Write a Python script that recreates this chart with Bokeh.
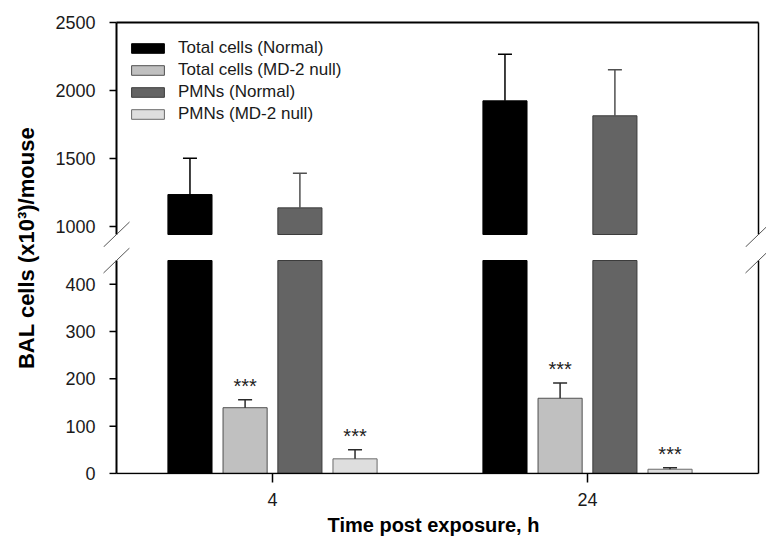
import numpy as np
from bokeh.plotting import figure
from bokeh.models import (ColumnDataSource, Range1d, FixedTicker, LinearAxis,
                          Label, Legend, LegendItem, CDSView, BooleanFilter)
from bokeh.layouts import row, column
from bokeh.transform import dodge
from bokeh.core.properties import value
from bokeh.embed import file_html
from bokeh.resources import INLINE

# ---------------- data ----------------
times = ["4", "24"]
series_names = ["Total cells (Normal)", "Total cells (MD-2 null)",
                "PMNs (Normal)", "PMNs (MD-2 null)"]
total_normal = [1235, 1924]
total_normal_err = [267, 343]
total_md2 = [139, 159]
total_md2_err = [17, 32]
pmn_normal = [1137, 1814]
pmn_normal_err = [255, 338]
pmn_md2 = [31, 9]
pmn_md2_err = [19, 3]
total_md2_sig = ["***", "***"]
pmn_md2_sig = ["***", "***"]

upper_ticks = [1000, 1500, 2000, 2500]
lower_ticks = [0, 100, 200, 300, 400]

# ---------------- styling ----------------
FONT = "Liberation Sans"
fills = ["#000000", "#c0c0c0", "#646464", "#dedede"]
edges = ["#000000", "#505050", "#3c3c3c", "#6a6a6a"]
err_colors = ["#000000", "#2a2a2a", "#505050", "#2a2a2a"]
offsets = [-0.262, -0.087, 0.087, 0.262]
bar_w = 0.14

# ---------------- layout (page pixels) ----------------
TITLE_W = 40
MAIN_W = 726
FRAME_LEFT = 100
BORDER_L = FRAME_LEFT - TITLE_W
FRAME_W = MAIN_W - BORDER_L
AX_L, AX_R = 116, 758          # left / right axis lines
G0, GSTEP = 272, 315           # first group centre, group spacing
TICK_LEN = 7

x_start = (FRAME_LEFT - G0) / GSTEP
x_range = Range1d(x_start, x_start + FRAME_W / GSTEP)
X0 = (AX_L - G0) / GSTEP
X1 = (AX_R - G0) / GSTEP

# upper panel: 2500 at y=22, 1000 at y=226, segment ends at 234, canvas 0..247
UP_H, UP_BT = 247, 18
sy_u = (226 - 22) / (2500 - 1000)
up_range = Range1d(2500 - (UP_H - 22) / sy_u, 2500 + (22 - UP_BT) / sy_u)
up_gap = 2500 - (234 - 22) / sy_u
# lower panel: 0 at y=473, 400 at y=283.7, segment starts at 260, canvas 247..541
LO_TOP, LO_H, LO_FB = 247, 294, 474
sy_l = (473 - 283.7) / 400
lo_range = Range1d(-(LO_FB - 473) / sy_l, (473 - LO_TOP) / sy_l)
lo_gap = (473 - 260) / sy_l

group_x = list(range(len(times)))
vals = [total_normal, total_md2, pmn_normal, pmn_md2]
errs = [total_normal_err, total_md2_err, pmn_normal_err, pmn_md2_err]
sigs = [None, total_md2_sig, None, pmn_md2_sig]


def panel_source(i, upper):
    v, e, s = vals[i], errs[i], sigs[i]
    s = s if s is not None else [""] * len(v)
    if upper:
        bot = [up_gap] * len(v)
        top = list(v)
        mask = [a > up_gap for a in v]
    else:
        bot = [0] * len(v)
        top = [min(a, lo_gap) for a in v]
        mask = [True] * len(v)
    src = ColumnDataSource(dict(x=group_x, bot=bot, top=top, etop=list(v),
                                cap=[a + b for a, b in zip(v, e)], sig=list(s)))
    return src, mask


def base_axis(ax):
    ax.axis_line_color = None
    ax.minor_tick_line_color = None
    ax.major_label_text_font = FONT
    ax.major_label_text_font_size = "18px"
    ax.major_label_text_color = "#1a1a1a"


def panel(yr, h, bt, bb, ticks, upper):
    p = figure(width=MAIN_W, height=h, x_range=x_range, y_range=yr,
               output_backend="svg", toolbar_location=None,
               x_axis_location=None, y_axis_location=None,
               min_border_left=BORDER_L, min_border_right=0,
               min_border_top=bt, min_border_bottom=bb,
               outline_line_color=None, background_fill_color="white",
               border_fill_color="white")
    p.grid.visible = False

    # y tick labels (just left of the frame)
    lab_ax = LinearAxis(ticker=FixedTicker(ticks=ticks))
    base_axis(lab_ax)
    lab_ax.major_tick_line_color = None
    lab_ax.major_tick_out = 0
    lab_ax.major_tick_in = 0
    lab_ax.major_label_standoff = 5
    p.add_layout(lab_ax, "left")

    sx = GSTEP
    sy = sy_u if upper else sy_l
    gap = up_gap if upper else lo_gap

    legend_renderers = []
    for i in range(len(series_names)):
        s, mask = panel_source(i, upper)
        xd = dodge("x", offsets[i])
        p.vbar(x=xd, top="top", bottom="bot", width=bar_w, source=s,
               view=CDSView(filter=BooleanFilter(mask)),
               fill_color=fills[i], line_color=edges[i], line_width=1)
        err_ok = all(c < yr.end for c in s.data["cap"]) if not upper else any(mask)
        if err_ok:
            p.segment(x0=xd, y0="etop", x1=xd, y1="cap", source=s,
                      view=CDSView(filter=BooleanFilter(list(mask))),
                      line_color=err_colors[i], line_width=1.5)
            p.scatter(x=xd, y="cap", marker="dash", size=14, source=s,
                      view=CDSView(filter=BooleanFilter(list(mask))),
                      line_color=err_colors[i], line_width=1.5)
        if not upper and sigs[i] is not None:
            p.text(x=xd, y="cap", text="sig", source=s, text_align="center",
                   text_baseline="alphabetic", y_offset=-14,
                   text_font=value(FONT), text_font_size="20px",
                   text_color="#222222")
        if upper:
            # legend proxy for this series (its data lies far outside the frame)
            far_x = (x_range.end - x_range.start) * 10
            far_y = (yr.end - yr.start) * 10
            psrc = ColumnDataSource(dict(x=group_x, top=vals[i]))
            rp = p.vbar(x=dodge("x", far_x), top=dodge("top", far_y),
                        bottom=dodge("top", far_y), width=bar_w, source=psrc,
                        fill_color=fills[i], line_color=edges[i], line_width=1)
            legend_renderers.append(rp)

    # y tick marks on the drawn left axis line
    n = len(ticks)
    p.segment(x0=[X0 - TICK_LEN / sx] * n, y0=list(ticks),
              x1=[X0] * n, y1=list(ticks),
              line_color="black", line_width=1.5)

    if upper:
        y_lo, y_hi = gap, 2500
        p.segment(x0=[X0], y0=[2500], x1=[X1], y1=[2500],
                  line_color="black", line_width=2)
    else:
        y_lo, y_hi = 0, gap
        p.segment(x0=[X0], y0=[0], x1=[X1], y1=[0],
                  line_color="black", line_width=1.5)
    # left and right frame lines
    p.segment(x0=[X0, X1], y0=[y_lo, y_lo], x1=[X0, X1], y1=[y_hi, y_hi],
              line_color="black", line_width=[2, 1.5])
    # break marks
    dx, dy = 13 / sx, 12.5 / sy
    p.segment(x0=[X0 - dx, X1 - dx], y0=[gap - dy, gap - dy],
              x1=[X0 + dx, X1 + dx], y1=[gap + dy, gap + dy],
              line_color="#555555", line_width=1)

    if upper:
        legend = Legend(items=[LegendItem(label=nm, renderers=[r])
                               for nm, r in zip(series_names, legend_renderers)],
                        location=(27, 122), margin=0, padding=0, spacing=0,
                        label_height=22, glyph_height=12, glyph_width=41,
                        label_standoff=10, label_text_font=FONT,
                        label_text_font_size="17px",
                        label_text_color="#1a1a1a",
                        border_line_color=None, background_fill_alpha=0)
        p.add_layout(legend)
    else:
        xax = LinearAxis(ticker=FixedTicker(ticks=group_x),
                         major_label_overrides={i: t for i, t in enumerate(times)})
        base_axis(xax)
        xax.major_tick_line_color = "black"
        xax.major_tick_line_width = 1.5
        xax.major_tick_out = 8
        xax.major_tick_in = LO_FB - 473
        xax.major_label_standoff = 10
        xax.axis_label = "Time post exposure, h"
        xax.axis_label_text_font = FONT
        xax.axis_label_text_font_style = "bold"
        xax.axis_label_text_font_size = "20px"
        xax.axis_label_text_color = "#000000"
        xax.axis_label_standoff = 5
        p.add_layout(xax, "below")
    return p


upper = panel(up_range, UP_H, UP_BT, 0, upper_ticks, True)
lower = panel(lo_range, LO_H, 0, LO_H - (LO_FB - LO_TOP), lower_ticks, False)

TOT_H = UP_H + LO_H
tf = figure(width=TITLE_W, height=TOT_H, x_range=Range1d(0, TITLE_W),
            y_range=Range1d(0, TOT_H), output_backend="svg",
            toolbar_location=None, x_axis_location=None, y_axis_location=None,
            min_border=0, outline_line_color=None)
tf.grid.visible = False
tf.add_layout(Label(x=26, y=TOT_H - (22 + 473) / 2.0, text="BAL cells (x10³)/mouse",
                    angle=np.pi / 2, text_align="center", text_baseline="middle",
                    text_font=FONT, text_font_style="bold", text_font_size="22px",
                    text_color="#000000"))

layout = row(tf, column(upper, lower))
open("out.html", "w").write(file_html(layout, INLINE))
